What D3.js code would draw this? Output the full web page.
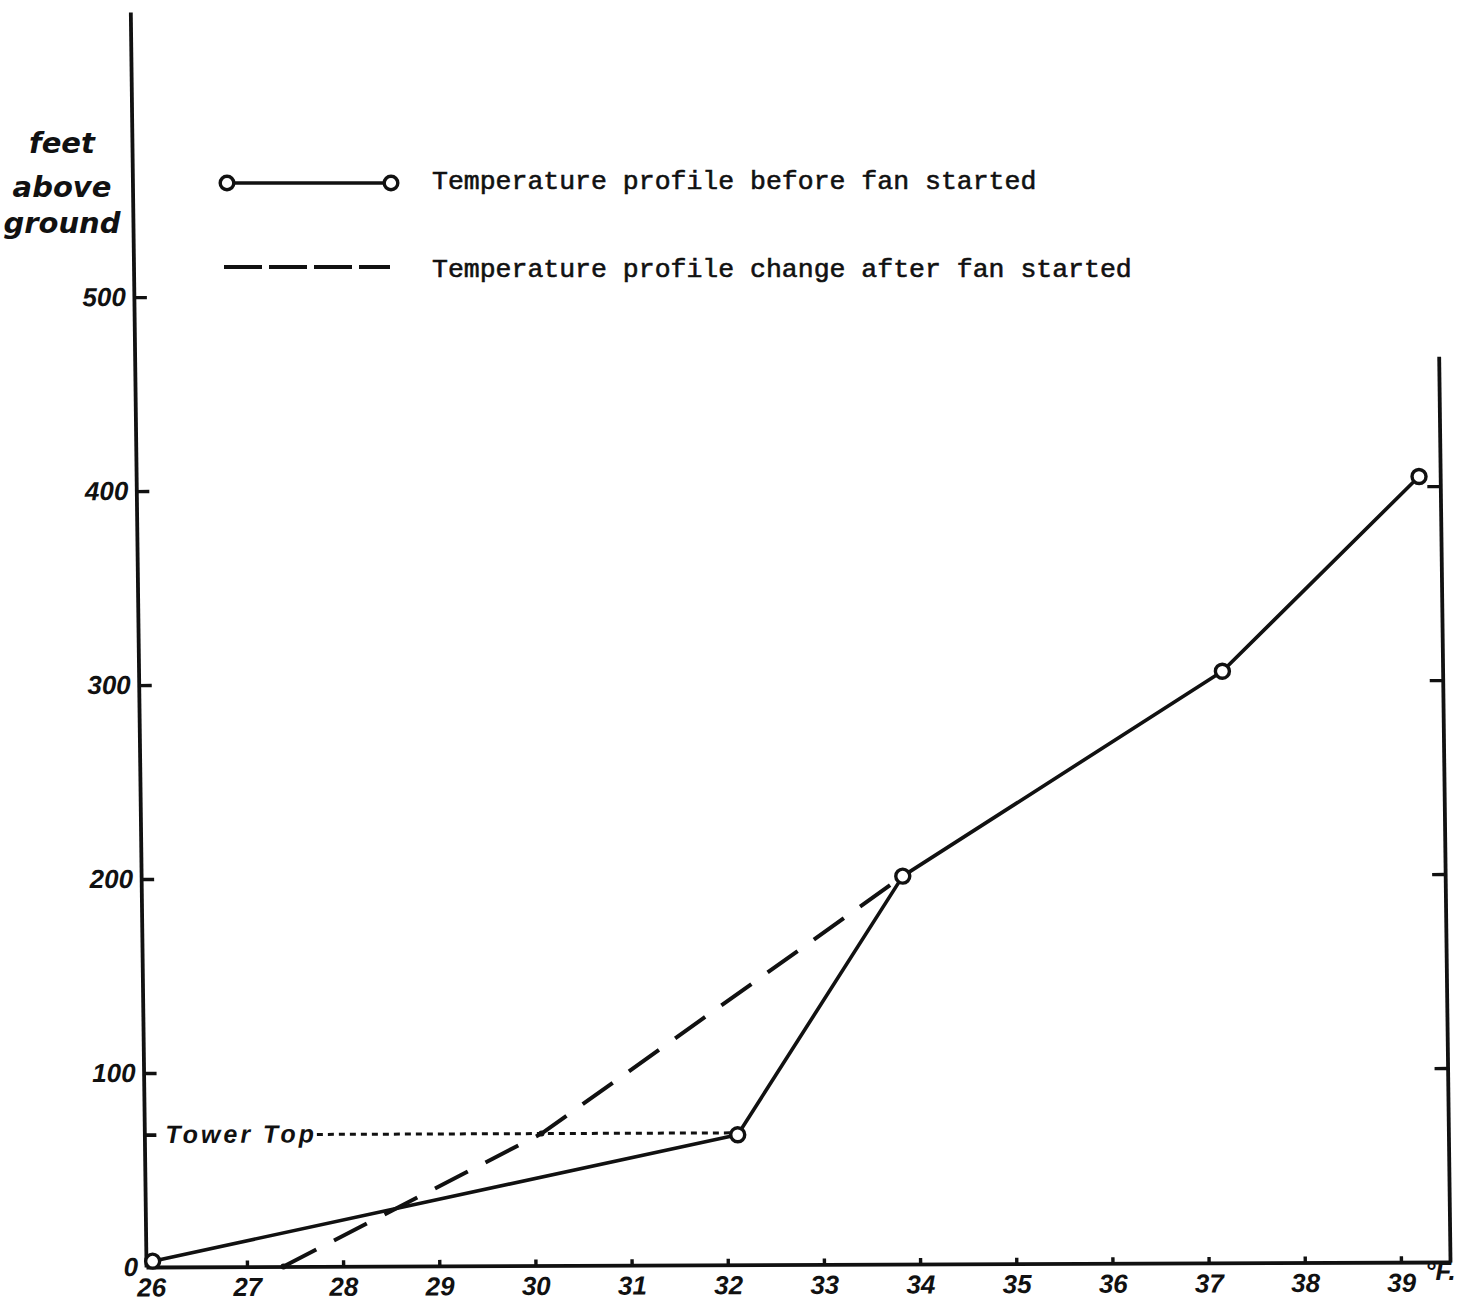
<!DOCTYPE html>
<html><head><meta charset="utf-8">
<script src="https://cdn.jsdelivr.net/npm/d3@7"></script>
<style>body{margin:0;background:#fff}</style>
</head><body>
<script>
// ---- data ----
const tempBefore   = [26.02, 32.12, 33.87, 37.22, 39.29];
const heightBefore = [3, 67, 200, 305, 405];
const tempAfter    = [27.38, 30.08, 33.87];
const heightAfter  = [0, 68, 200];
const towerTop = 68;
const towerLabel = "Tower Top";
const xTicks = [26,27,28,29,30,31,32,33,34,35,36,37,38,39];
const yTicksLeft = [0,100,200,300,400,500];
const yTicksRight = [100,200,300,400];
const xUnit = "°F.";
const yTitle = ["feet","above","ground"];
const legendLabels = ["Temperature profile before fan started",
                      "Temperature profile change after fan started"];
const xDomain = [25.95, 39.51];
const yLeftTop = 647;
const yRightTop = 467;

const W = 1467, H = 1305;
const ink = "#111";
const svg = d3.select("body").append("svg").attr("width", W).attr("height", H)
  .style("background", "#fff");

// paper frame (scanned sheet is slightly skewed)
const g = svg.append("g").attr("transform", "matrix(1,-0.00383,0.0125,1,146,1267)");

const x = d3.scaleLinear().domain(xDomain).range([0, 1304]);
const y = d3.scaleLinear().domain([0, yLeftTop]).range([0, -1255]);
const yR = d3.scaleLinear().domain([0, yRightTop]).range([0, y(yRightTop)]);

const numFont = "'Liberation Sans', Arial, sans-serif";

function styleAxis(sel, fs) {
  sel.attr("font-family", numFont).attr("font-size", fs)
     .attr("font-weight", "bold").attr("font-style", "italic");
  sel.selectAll("path.domain").attr("stroke", ink).attr("stroke-width", 3.8);
  sel.selectAll(".tick line").attr("stroke", ink).attr("stroke-width", 3.4);
  sel.selectAll(".tick text").attr("fill", ink);
}

// bottom axis
const gx = g.append("g").call(
  d3.axisBottom(x).tickValues(xTicks).tickSize(-6).tickSizeOuter(0).tickPadding(11)
    .tickFormat(d3.format("d")));
styleAxis(gx, 26);

// unit label
g.append("text").attr("x", x(xTicks[xTicks.length-1]) + 24).attr("y", 18)
  .attr("font-family", numFont).attr("font-size", 26).attr("font-weight", "bold")
  .attr("font-style", "italic").attr("fill", ink).text(xUnit);

// left axis
const gy = g.append("g").call(
  d3.axisLeft(y).tickValues(yTicksLeft).tickSize(-13).tickSizeOuter(0).tickPadding(8)
    .tickFormat(d3.format("d")));
styleAxis(gy, 26);
gy.selectAll(".tick").filter(d => d === 0).select("line").remove();

// right axis
const gr = g.append("g").attr("transform", `translate(${x(xDomain[1])},0)`).call(
  d3.axisRight(yR).tickValues(yTicksRight).tickSize(-13).tickSizeOuter(0).tickFormat(""));
styleAxis(gr, 26);

// tower top marker
g.append("line").attr("x1", 1).attr("x2", 12).attr("y1", y(towerTop)).attr("y2", y(towerTop))
  .attr("stroke", ink).attr("stroke-width", 3.8);
const tt = g.append("text").attr("x", 21).attr("y", y(towerTop) + 8)
  .attr("font-family", numFont).attr("font-size", 25).attr("font-weight", "bold")
  .attr("font-style", "italic").attr("letter-spacing", 3).attr("fill", ink).text(towerLabel);
const ttEnd = 21 + tt.node().getComputedTextLength();
g.append("line").attr("x1", ttEnd).attr("x2", x(tempBefore[1]) - 7)
  .attr("y1", y(towerTop)).attr("y2", y(towerTop))
  .attr("stroke", ink).attr("stroke-width", 3).attr("stroke-dasharray", "6,5");

const line = d3.line().x(d => x(d[0])).y(d => y(d[1]));
const after = tempAfter.map((t, i) => [t, heightAfter[i]]);
const before = tempBefore.map((t, i) => [t, heightBefore[i]]);

// dashed profile after fan started
g.append("path").attr("d", line(after)).attr("fill", "none").attr("stroke", ink)
  .attr("stroke-width", 4).attr("stroke-dasharray", "37,20");
g.selectAll("circle.dot").data(after.slice(0, 2)).join("circle").attr("class", "dot")
  .attr("cx", d => x(d[0])).attr("cy", d => y(d[1])).attr("r", 3).attr("fill", ink);

// solid profile before fan started
g.append("path").attr("d", line(before)).attr("fill", "none").attr("stroke", ink)
  .attr("stroke-width", 3.6).attr("stroke-linejoin", "round");
g.selectAll("circle.mk").data(before).join("circle").attr("class", "mk")
  .attr("cx", d => x(d[0])).attr("cy", d => y(d[1])).attr("r", 7)
  .attr("fill", "#fff").attr("stroke", ink).attr("stroke-width", 3.4);

// y title (handwritten)
const titleY = [153, 197, 233];
yTitle.forEach((t, i) => {
  svg.append("text").attr("x", 62).attr("y", titleY[i]).attr("text-anchor", "middle")
    .attr("font-family", "'DejaVu Sans', sans-serif").attr("font-size", 29)
    .attr("font-weight", "bold").attr("font-style", "italic").attr("fill", ink).text(t);
});

// legend
const lg = svg.append("g");
lg.append("line").attr("x1", 227).attr("x2", 391).attr("y1", 183).attr("y2", 183)
  .attr("stroke", ink).attr("stroke-width", 3.6);
[227, 391].forEach(cx => lg.append("circle").attr("cx", cx).attr("cy", 183).attr("r", 6.8)
  .attr("fill", "#fff").attr("stroke", ink).attr("stroke-width", 3.4));
lg.append("line").attr("x1", 224).attr("x2", 390).attr("y1", 267).attr("y2", 267)
  .attr("stroke", ink).attr("stroke-width", 3.8).attr("stroke-dasharray", "38,7");
const monoFont = "'Liberation Mono', 'DejaVu Sans Mono', monospace";
legendLabels.forEach((t, i) => {
  lg.append("text").attr("x", 432).attr("y", [189, 277][i])
    .attr("font-family", monoFont).attr("font-size", 26.5).attr("fill", ink)
    .attr("stroke", ink).attr("stroke-width", 0.6).text(t);
});
</script>
</body></html>
